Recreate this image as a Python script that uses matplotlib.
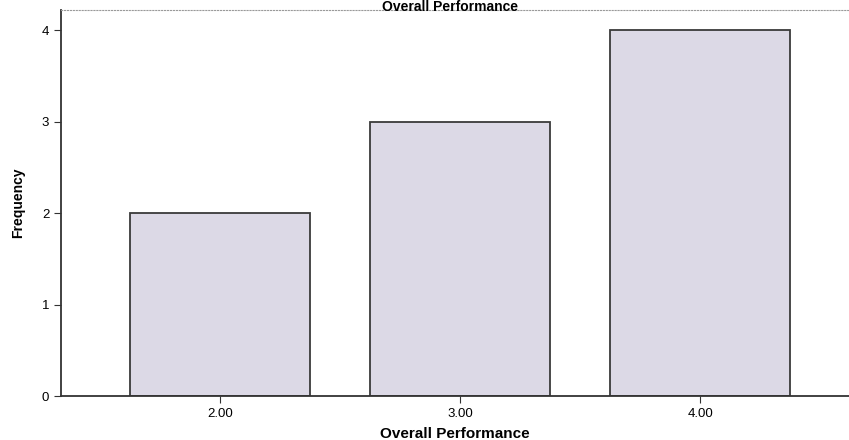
import matplotlib
matplotlib.use("Agg")
import matplotlib.pyplot as plt

plt.rcParams["font.family"] = ["Liberation Sans", "DejaVu Sans"]

categories = [2.0, 3.0, 4.0]
tick_labels = ["2.00", "3.00", "4.00"]
frequency = [2, 3, 4]

fig = plt.figure(figsize=(8.49, 4.40), dpi=100)
ax = fig.add_axes([61 / 849, 44 / 440, 788 / 849, 386 / 440])

ax.bar(categories, frequency, width=0.75, color="#dcd9e6",
       edgecolor="#3a3a3a", linewidth=1.3, zorder=2)

ax.set_xlim(1.3375, 4.62)
ax.set_ylim(0, 4.22)
ax.set_xticks(categories)
ax.set_xticklabels(tick_labels)
ax.set_yticks([0, 1, 2, 3, 4])

ax.spines["right"].set_visible(False)
ax.spines["top"].set_color("#9a9a9a")
ax.spines["top"].set_linestyle(":")
ax.spines["left"].set_color("#333333")
ax.spines["bottom"].set_color("#333333")
ax.spines["left"].set_linewidth(1.3)
ax.spines["bottom"].set_linewidth(1.3)
ax.tick_params(axis="both", labelsize=9.5, length=5, color="#333333")

ax.set_ylabel("Frequency", fontsize=10, fontweight="bold", labelpad=12)
ax.set_xlabel("Overall Performance", fontsize=11, fontweight="bold", labelpad=5)
fig.text(0.53, 0.999, "Overall Performance", ha="center", va="top",
         fontsize=10, fontweight="bold")

fig.savefig("out.png", dpi=100)
